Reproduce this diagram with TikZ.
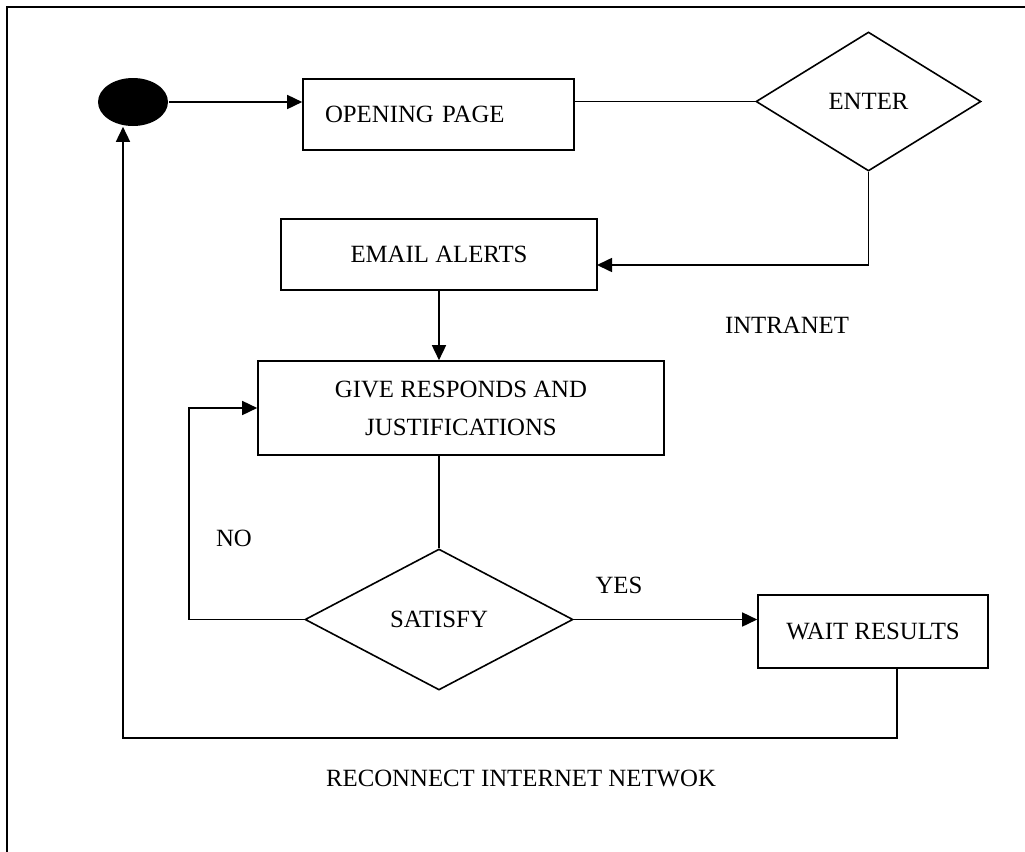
\documentclass[tikz,border=0pt]{standalone}
\usepackage{fontspec}
\setmainfont{Liberation Serif}
\usetikzlibrary{shapes.geometric,arrows.meta}

\begin{document}
\begin{tikzpicture}[x=0.5pt,y=-0.5pt,line width=0.8pt,
        font=\fontsize{12.4}{19}\selectfont,
        box/.style={draw, rectangle, inner sep=0pt, align=center},
        choice/.style={draw, diamond, inner sep=0pt},
        arr/.style={-{Triangle[length=7.5pt,width=7pt]}}]
        \useasboundingbox (0,0) rectangle (1025,852);
        \draw (7,852) -- (7,7) -- (1025,7);
        % states
        \node[ellipse, fill=black, minimum width=35pt, minimum height=24pt] (start) at (133,102) {};
        \node[box, minimum width=135.5pt, minimum height=35.5pt, text width=113.5pt, inner xsep=11pt, align=left] (open) at (438.5,114.5) {OPENING PAGE};
        \node[choice, minimum width=112.5pt, minimum height=69.5pt] (enter) at (868.5,101.5) {ENTER};
        \node[box, minimum width=158pt, minimum height=35.5pt] (email) at (439,254.5) {EMAIL ALERTS};
        \node[box, minimum width=203pt, minimum height=47pt] (give) at (461,408) {GIVE RESPONDS AND\\JUSTIFICATIONS};
        \node[choice, minimum width=134pt, minimum height=70.5pt] (satisfy) at (439,619.5) {SATISFY};
        \node[box, minimum width=115pt, minimum height=36.5pt] (wait) at (873,631.5) {WAIT RESULTS};
        % labels
        \node (intranet) at (787,325) {INTRANET};
        \node (no) at (234,538) {NO};
        \node (yes) at (619,585) {YES};
        \node (reconnect) at (521,778) {RECONNECT INTERNET NETWOK};
        \coordinate (alertin) at (597,265);
        \coordinate (back) at (123,738);
        % flow
        \draw[arr] (start.east) -- (start.east -| open.west);
        \draw (enter.west -| open.east) -- (enter.west);
        \draw[arr] (enter.south) |- (alertin);
        \draw[arr] (email.south) -- (email.south |- give.north);
        \draw (satisfy.north |- give.south) -- (satisfy.north);
        \draw[arr] (satisfy.west) -- ++(-115,0) |- (give.west);
        \draw[arr] (satisfy.east) -- (satisfy.east -| wait.west);
        \draw[arr] ([xshift=12pt]wait.south) |- (back) -- (back |- start.south);
    \end{tikzpicture}
\end{document}
